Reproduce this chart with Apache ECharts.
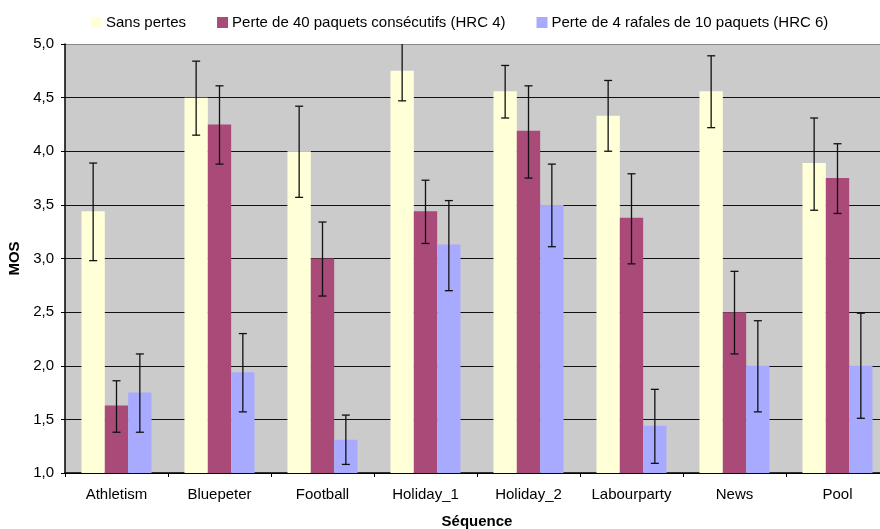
<!DOCTYPE html>
<html>
<head>
<meta charset="utf-8">
<script src="https://cdn.jsdelivr.net/npm/echarts@6/dist/echarts.min.js"></script>
<style>
html,body{margin:0;padding:0;background:#fff;}
#chart{width:880px;height:529px;}
</style>
</head>
<body>
<div id="chart"></div>
<script>
const categories = ['Athletism', 'Bluepeter', 'Football', 'Holiday_1', 'Holiday_2', 'Labourparty', 'News', 'Pool'];
const seriesNames = ['Sans pertes', 'Perte de 40 paquets consécutifs (HRC 4)', 'Perte de 4 rafales de 10 paquets (HRC 6)'];
const sansPertes = [3.44, 4.50, 4.00, 4.75, 4.56, 4.33, 4.56, 3.89];
const perte40 = [1.63, 4.25, 3.00, 3.44, 4.19, 3.38, 2.50, 3.75];
const rafales = [1.75, 1.94, 1.31, 3.13, 3.50, 1.44, 2.00, 2.00];
const sansLow = [2.98, 4.15, 3.57, 4.47, 4.31, 4.00, 4.22, 3.45];
const sansHigh = [3.89, 4.84, 4.42, 5.03, 4.80, 4.66, 4.89, 4.31];
const perteLow = [1.38, 3.88, 2.65, 3.14, 3.75, 2.95, 2.11, 3.42];
const perteHigh = [1.86, 4.61, 3.34, 3.73, 4.61, 3.79, 2.88, 4.07];
const rafLow = [1.38, 1.57, 1.08, 2.70, 3.11, 1.09, 1.57, 1.51];
const rafHigh = [2.11, 2.30, 1.54, 3.54, 3.88, 1.78, 2.42, 2.49];
const yTicks = [1.0, 1.5, 2.0, 2.5, 3.0, 3.5, 4.0, 4.5, 5.0];

const colors = ['#FFFFD8', '#A94A78', '#A8AAFF'];
const catGap = 0.32;
const yMin = yTicks[0], yMax = yTicks[yTicks.length - 1];
const FONT = 'Liberation Sans, Arial, sans-serif';

function errSeries(idx, low, high) {
  return {
    type: 'custom',
    name: 'err' + idx,
    z: 10,
    encode: { x: 0, y: [1, 2] },
    data: categories.map((c, i) => [i, low[i], high[i]]),
    renderItem: function (params, api) {
      const ci = api.value(0);
      const lo = api.value(1);
      const hi = api.value(2);
      const catW = api.size([1, 0])[0];
      const barW = catW * (1 - catGap) / 3;
      const x = api.coord([ci, lo])[0] + (idx - 1) * barW;
      const yLo = api.coord([ci, Math.max(lo, yMin)])[1];
      const yHi = api.coord([ci, Math.min(hi, yMax)])[1];
      const cap = 4;
      const style = { stroke: '#111', lineWidth: 1.3 };
      const children = [
        { type: 'line', shape: { x1: x, y1: yLo, x2: x, y2: yHi }, style: style }
      ];
      if (hi <= yMax) children.push({ type: 'line', shape: { x1: x - cap, y1: yHi, x2: x + cap, y2: yHi }, style: style });
      if (lo >= yMin) children.push({ type: 'line', shape: { x1: x - cap, y1: yLo, x2: x + cap, y2: yLo }, style: style });
      return { type: 'group', children: children };
    }
  };
}

const chart = echarts.init(document.getElementById('chart'), null, { renderer: 'canvas' });
chart.setOption({
  animation: false,
  textStyle: { fontFamily: FONT },
  legend: {
    data: seriesNames,
    left: 86,
    top: 10,
    itemWidth: 11,
    itemHeight: 11,
    itemGap: 31,
    icon: 'rect',
    textStyle: { fontSize: 15, color: '#000', fontFamily: FONT, padding: [0, 0, 0, -1] }
  },
  grid: {
    left: 65, right: -9, top: 44, bottom: 56,
    outerBoundsMode: 'none',
    containLabel: false,
    show: true, backgroundColor: '#CBCBCB', borderWidth: 0
  },
  xAxis: {
    type: 'category',
    data: categories,
    name: 'Séquence',
    nameLocation: 'middle',
    nameGap: 41,
    nameTextStyle: { fontSize: 15, fontWeight: 'bold', color: '#000', fontFamily: FONT },
    axisLine: { lineStyle: { color: '#000', width: 1.5 } },
    axisTick: { show: true, interval: 0, length: 4, lineStyle: { color: '#000' } },
    axisLabel: { interval: 0, hideOverlap: false, fontSize: 15, color: '#000', margin: 14, fontFamily: FONT },
    splitLine: { show: false }
  },
  yAxis: {
    type: 'value',
    min: yMin, max: yMax, interval: 0.5,
    name: 'MOS',
    nameLocation: 'middle',
    nameGap: 38,
    nameTextStyle: { fontSize: 15, fontWeight: 'bold', color: '#000', fontFamily: FONT },
    axisLine: { show: true, lineStyle: { color: '#000', width: 1.5 } },
    axisTick: { show: true, length: 4, lineStyle: { color: '#000' } },
    axisLabel: { fontSize: 15, color: '#000', margin: 11, fontFamily: FONT,
      formatter: v => v.toFixed(1).replace('.', ',') },
    splitLine: { show: true, lineStyle: { color: ['#111','#111','#111','#111','#111','#111','#111','#111','#888'], width: 1 } }
  },
  series: [
    { type: 'bar', name: seriesNames[0], data: sansPertes, itemStyle: { color: colors[0] }, barGap: '0%', barCategoryGap: '32%' },
    { type: 'bar', name: seriesNames[1], data: perte40, itemStyle: { color: colors[1] }, barGap: '0%', barCategoryGap: '32%' },
    { type: 'bar', name: seriesNames[2], data: rafales, itemStyle: { color: colors[2] }, barGap: '0%', barCategoryGap: '32%' },
    errSeries(0, sansLow, sansHigh),
    errSeries(1, perteLow, perteHigh),
    errSeries(2, rafLow, rafHigh)
  ]
});
</script>
</body>
</html>
